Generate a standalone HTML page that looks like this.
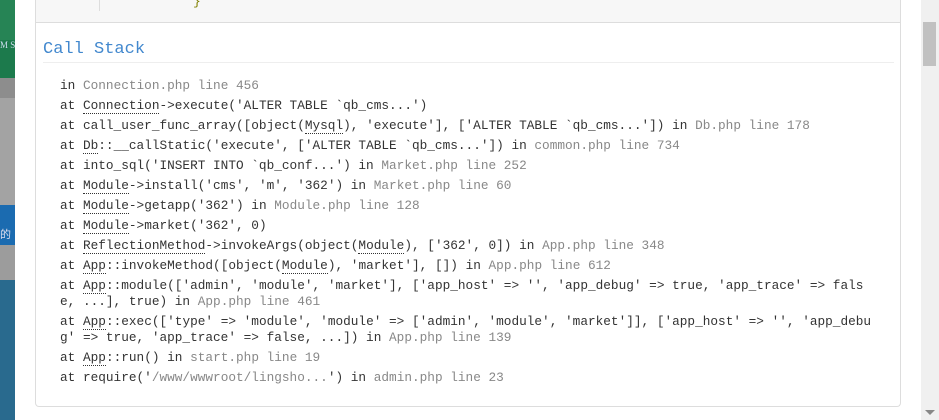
<!DOCTYPE html>
<html><head><meta charset="utf-8"><style>
*{margin:0;padding:0;box-sizing:border-box}
body{width:939px;height:420px;overflow:hidden;background:#fff;position:relative;font-family:"Liberation Mono",monospace}
.strip{position:absolute;left:0;width:15px}
.top{position:absolute;left:35px;top:-5px;width:866px;height:28px;background:#f7f7f7;border:1px solid #ddd;border-top:none}
.panel{position:absolute;left:35px;top:22px;width:866px;height:385px;border:1px solid #ddd;border-top:none;border-radius:0 0 4px 4px}
h2{position:absolute;left:7px;top:18px;font-size:17px;font-weight:normal;color:#4288ce;font-family:"Liberation Mono",monospace}
.hr{position:absolute;left:7px;top:40px;width:851px;height:1px;background:#eee}
.ln{position:absolute;left:24px;font-size:12.75px;line-height:16px;color:#333;white-space:pre}
.g{color:#888}
u{text-decoration:none;border-bottom:1px dotted #333}
.sb{position:absolute;left:921px;top:0;width:18px;height:420px;background:#f0f0f0}
</style></head><body>
<div class="strip" style="top:0;height:78px;background:#1c7a4c"></div>
<div class="strip" style="top:0;height:40px;background:#2d8a5c;opacity:.6"></div>
<div style="position:absolute;left:0;top:40px;font-size:9px;color:#cde;font-family:'Liberation Serif',serif">M S</div>
<div class="strip" style="top:78px;height:20px;background:#8d8d8d"></div>
<div class="strip" style="top:98px;height:107px;background:#a3a3a3"></div>
<div class="strip" style="top:205px;height:40px;background:#1b6bb0"></div>
<div style="position:absolute;left:0;top:226px;font-size:11px;color:#dde;font-family:'Noto Sans CJK SC',sans-serif;width:15px;overflow:hidden;white-space:nowrap">的</div>
<div class="strip" style="top:245px;height:35px;background:#9c9c9c"></div>
<div class="strip" style="top:280px;height:140px;background:#296a8e"></div>
<div class="top"><div style="position:absolute;left:63px;top:0;width:1px;height:16px;background:#ddd"></div><div style="position:absolute;left:157px;top:-1px;font-size:13px;color:#808000">}</div></div>
<div class="panel">
<h2>Call Stack</h2>
<div class="hr"></div>
<div class="ln" style="top:56px">in <span class="g">Connection.php line 456</span></div>
<div class="ln" style="top:76px">at <u>Connection</u>->execute('ALTER TABLE `qb_cms...')</div>
<div class="ln" style="top:96px">at call_user_func_array([object(<u>Mysql</u>), 'execute'], ['ALTER TABLE `qb_cms...']) in <span class="g">Db.php line 178</span></div>
<div class="ln" style="top:116px">at <u>Db</u>::__callStatic('execute', ['ALTER TABLE `qb_cms...']) in <span class="g">common.php line 734</span></div>
<div class="ln" style="top:136px">at into_sql('INSERT INTO `qb_conf...') in <span class="g">Market.php line 252</span></div>
<div class="ln" style="top:156px">at <u>Module</u>->install('cms', 'm', '362') in <span class="g">Market.php line 60</span></div>
<div class="ln" style="top:176px">at <u>Module</u>->getapp('362') in <span class="g">Module.php line 128</span></div>
<div class="ln" style="top:196px">at <u>Module</u>->market('362', 0)</div>
<div class="ln" style="top:216px">at <u>ReflectionMethod</u>->invokeArgs(object(<u>Module</u>), ['362', 0]) in <span class="g">App.php line 348</span></div>
<div class="ln" style="top:236px">at <u>App</u>::invokeMethod([object(<u>Module</u>), 'market'], []) in <span class="g">App.php line 612</span></div>
<div class="ln" style="top:256px">at <u>App</u>::module(['admin', 'module', 'market'], ['app_host' => '', 'app_debug' => true, 'app_trace' => fals
e, ...], true) in <span class="g">App.php line 461</span></div>
<div class="ln" style="top:292px">at <u>App</u>::exec(['type' => 'module', 'module' => ['admin', 'module', 'market']], ['app_host' => '', 'app_debu
g' => true, 'app_trace' => false, ...]) in <span class="g">App.php line 139</span></div>
<div class="ln" style="top:328px">at <u>App</u>::run() in <span class="g">start.php line 19</span></div>
<div class="ln" style="top:348px">at require('<span class="g">/www/wwwroot/lingsho...</span>') in <span class="g">admin.php line 23</span></div>
</div>
<div class="sb"><div style="position:absolute;left:2px;top:22px;width:13px;height:44px;background:#c1c1c1"></div>
<div style="position:absolute;left:4px;top:410px;width:0;height:0;border-left:5px solid transparent;border-right:5px solid transparent;border-top:5px solid #888"></div></div>
</body></html>
